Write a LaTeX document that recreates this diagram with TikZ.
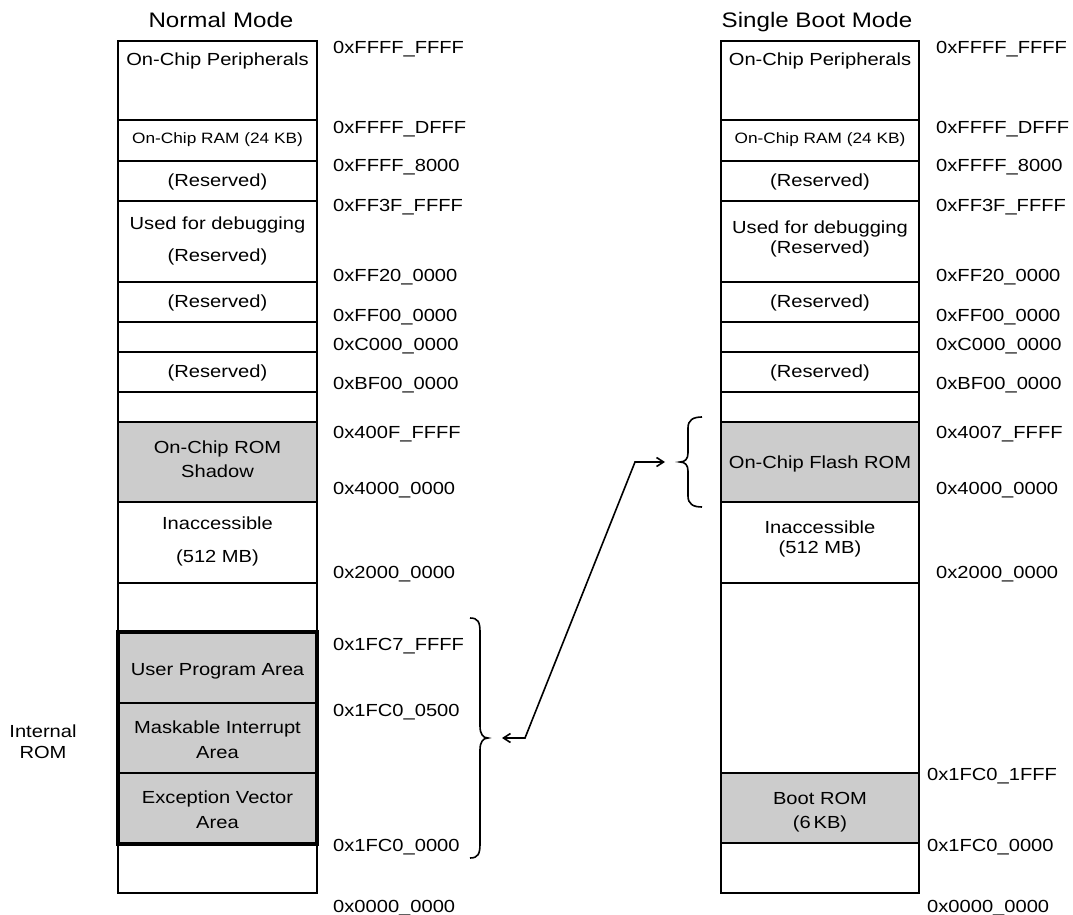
\documentclass[tikz,border=0pt]{standalone}
\usepackage{fontspec}
\setmainfont[FakeStretch=1.15]{Liberation Sans}
\usetikzlibrary{arrows.meta}
\begin{document}
\begin{tikzpicture}[x=1pt,y=-1pt,
  addr/.style={font=\fontsize{17.5}{20}\selectfont, anchor=base west, inner sep=0pt},
  txt/.style={font=\fontsize{17.5}{20}\selectfont, anchor=base, inner sep=0pt},
  smalltxt/.style={font=\fontsize{15}{18}\selectfont, anchor=base, inner sep=0pt},
  titletxt/.style={font=\fontsize{21}{24}\selectfont, anchor=base, inner sep=0pt},
  romfill/.style={fill=black!20, draw=none},
  sepline/.style={line width=1.8pt},
  heavyline/.style={line width=2.8pt},
  rombox/.style={line width=3.6pt},
  brace/.style={line width=1.6pt},
  link/.style={line width=1.6pt, {Straight Barb[length=7pt,width=9pt]}-{Straight Barb[length=7pt,width=9pt]}}
]
\useasboundingbox (0,0) rectangle (1073,915);

% ---------- fills ----------
\fill[romfill] (118,422) rectangle (317,502);
\fill[romfill] (118,632) rectangle (317,844);
\fill[romfill] (721,422) rectangle (919,502);
\fill[romfill] (721,773) rectangle (919,843);

% ---------- left column ----------
\draw[sepline] (118,41) rectangle (317,893);
\draw[heavyline] (118,120) -- (317,120);
\foreach \yy in {161,201,282,322,352,392,422,502,583,703,773}
  \draw[sepline] (118,\yy) -- (317,\yy);
\draw[rombox] (118,632) rectangle (317,844);

% ---------- right column ----------
\draw[sepline] (721,41) rectangle (919,893);
\draw[heavyline] (721,120) -- (919,120);
\foreach \yy in {161,201,282,322,352,392,422,502,583,773,843}
  \draw[sepline] (721,\yy) -- (919,\yy);

% ---------- titles ----------
\node[titletxt] (tl) at (221,28) {Normal Mode};
\node[titletxt] (tr) at (817,28) {Single Boot Mode};

% ---------- left texts ----------
\node[txt] (l1) at (217.5,66) {On-Chip Peripherals};
\node[smalltxt] (l2) at (217.5,143) {On-Chip RAM (24 KB)};
\node[txt] (l3) at (217.5,186) {(Reserved)};
\node[txt] (l4a) at (217.5,229) {Used for debugging};
\node[txt] (l4b) at (217.5,261) {(Reserved)};
\node[txt] (l5) at (217.5,307) {(Reserved)};
\node[txt] (l6) at (217.5,377) {(Reserved)};
\node[txt] (l7a) at (217.5,453) {On-Chip ROM};
\node[txt] (l7b) at (217.5,477) {Shadow};
\node[txt] (l8a) at (217.5,529) {Inaccessible};
\node[txt] (l8b) at (217.5,562) {(512 MB)};
\node[txt] (l9) at (217.5,675) {User Program Area};
\node[txt] (l10a) at (217.5,733) {Maskable Interrupt};
\node[txt] (l10b) at (217.5,758) {Area};
\node[txt] (l11a) at (217.5,803) {Exception Vector};
\node[txt] (l11b) at (217.5,828) {Area};
\node[txt] (ir1) at (43,737) {Internal};
\node[txt] (ir2) at (43,758) {ROM};

% ---------- right texts ----------
\node[txt] (r1) at (820,66) {On-Chip Peripherals};
\node[smalltxt] (r2) at (820,143) {On-Chip RAM (24 KB)};
\node[txt] (r3) at (820,186) {(Reserved)};
\node[txt] (r4a) at (820,233) {Used for debugging};
\node[txt] (r4b) at (820,253) {(Reserved)};
\node[txt] (r5) at (820,307) {(Reserved)};
\node[txt] (r6) at (820,377) {(Reserved)};
\node[txt] (r7) at (820,468) {On-Chip Flash ROM};
\node[txt] (r8a) at (820,533) {Inaccessible};
\node[txt] (r8b) at (820,553) {(512 MB)};
\node[txt] (r9a) at (820,804) {Boot ROM};
\node[txt] (r9b) at (820,828) {(6\,KB)};

% ---------- left addresses ----------
\node[addr] (la1) at (333,54) {0xFFFF\_FFFF};
\node[addr] (la2) at (333,133) {0xFFFF\_DFFF};
\node[addr] (la3) at (333,171) {0xFFFF\_8000};
\node[addr] (la4) at (333,211) {0xFF3F\_FFFF};
\node[addr] (la5) at (333,281) {0xFF20\_0000};
\node[addr] (la6) at (333,321) {0xFF00\_0000};
\node[addr] (la7) at (333,350) {0xC000\_0000};
\node[addr] (la8) at (333,389) {0xBF00\_0000};
\node[addr] (la9) at (333,438) {0x400F\_FFFF};
\node[addr] (la10) at (333,494) {0x4000\_0000};
\node[addr] (la11) at (333,578) {0x2000\_0000};
\node[addr] (la12) at (333,650) {0x1FC7\_FFFF};
\node[addr] (la13) at (333,716) {0x1FC0\_0500};
\node[addr] (la14) at (333,851) {0x1FC0\_0000};
\node[addr] (la15) at (333,912) {0x0000\_0000};

% ---------- right addresses ----------
\node[addr] (ra1) at (936,54) {0xFFFF\_FFFF};
\node[addr] (ra2) at (936,133) {0xFFFF\_DFFF};
\node[addr] (ra3) at (936,171) {0xFFFF\_8000};
\node[addr] (ra4) at (936,211) {0xFF3F\_FFFF};
\node[addr] (ra5) at (936,281) {0xFF20\_0000};
\node[addr] (ra6) at (936,321) {0xFF00\_0000};
\node[addr] (ra7) at (936,350) {0xC000\_0000};
\node[addr] (ra8) at (936,389) {0xBF00\_0000};
\node[addr] (ra9) at (936,438) {0x4007\_FFFF};
\node[addr] (ra10) at (936,494) {0x4000\_0000};
\node[addr] (ra11) at (936,578) {0x2000\_0000};
\node[addr] (ra12) at (927,780) {0x1FC0\_1FFF};
\node[addr] (ra13) at (927,851) {0x1FC0\_0000};
\node[addr] (ra14) at (927,912) {0x0000\_0000};

% ---------- braces ----------
\draw[brace] (470,618) .. controls (478,618) and (480,622) .. (480,632)
  -- (480,726) .. controls (480,734) and (483,738) .. (488,738)
  .. controls (483,738) and (480,742) .. (480,750)
  -- (480,844) .. controls (480,854) and (478,858) .. (470,858);
\draw[brace] (702,417) .. controls (693,417) and (688,420) .. (688,428)
  -- (688,453) .. controls (688,459) and (685,462) .. (680,462)
  .. controls (685,462) and (688,465) .. (688,471)
  -- (688,496) .. controls (688,504) and (693,507) .. (702,507);

% ---------- link arrow ----------
\coordinate (romtip) at (502,738);
\coordinate (bendA) at (525,738);
\coordinate (bendB) at (635,462);
\coordinate (flashtip) at (665,462);
\draw[link] (romtip) -- (bendA) -- (bendB) -- (flashtip);
\end{tikzpicture}
\end{document}
